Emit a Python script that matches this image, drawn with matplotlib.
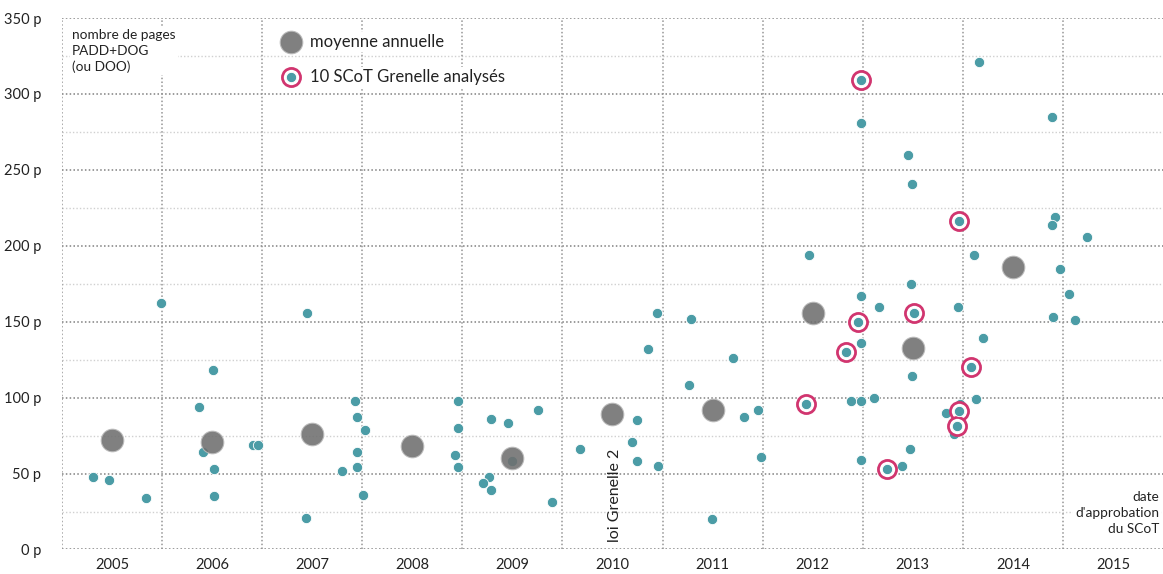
import numpy as np
import matplotlib
matplotlib.use("Agg")
import matplotlib.pyplot as plt
from matplotlib.ticker import MultipleLocator, FixedLocator, NullFormatter

plt.rcParams['font.family'] = ['Lato', 'DejaVu Sans']

# --- data: date d'approbation (fractional year) / nombre de pages PADD+DOG ---
scot_dates = [2005.31, 2005.47, 2005.84, 2005.99,
              2006.37, 2006.41, 2006.51, 2006.52, 2006.52, 2006.91, 2006.96,
              2007.45, 2007.44, 2007.80, 2007.93, 2007.95, 2007.95, 2007.95, 2008.03, 2008.01,
              2008.96, 2008.96, 2008.93, 2008.96,
              2009.50, 2009.29, 2009.46, 2009.76, 2009.27, 2009.21, 2009.29, 2009.90,
              2010.18, 2010.74, 2010.69, 2010.74, 2010.95, 2010.85, 2010.94,
              2011.28, 2011.26, 2011.70, 2011.81, 2011.95, 2011.98, 2011.49,
              2012.46, 2012.98, 2012.98, 2012.88, 2012.98, 2012.98, 2012.98,
              2013.16, 2013.11, 2013.39, 2013.47, 2013.49, 2013.45, 2013.49, 2013.48,
              2013.95, 2013.96, 2013.83, 2013.97, 2013.91,
              2014.16, 2014.89, 2014.92, 2014.89, 2014.11, 2014.97, 2014.20, 2014.13, 2014.13, 2014.90,
              2015.24, 2015.06, 2015.12]
scot_pages = [48, 46, 34, 162,
              94, 64, 118, 53, 35, 69, 69,
              156, 21, 52, 98, 87, 64, 54, 79, 36,
              98, 80, 62, 54,
              58, 86, 83, 92, 48, 44, 39, 31,
              66, 85, 71, 58, 55, 132, 156,
              152, 108, 126, 87, 92, 61, 20,
              194, 167, 136, 98, 98, 59, 281,
              160, 100, 55, 66, 114, 260, 241, 175,
              160, 219, 90, 96, 76,
              321, 285, 219, 214, 194, 185, 139, 119, 99, 153,
              206, 168, 151]

# 10 SCoT Grenelle analysés
grenelle_dates = [2012.43, 2012.83, 2012.95, 2012.98, 2013.24, 2013.51, 2013.96, 2014.08, 2013.96, 2013.94]
grenelle_pages = [96, 130, 150, 309, 53, 156, 216, 120, 91, 81]

# moyenne annuelle
avg_years = [2005, 2006, 2007, 2008, 2009, 2010, 2011, 2012, 2013, 2014]
avg_pages = [72, 71, 76, 68, 60, 89, 92, 156, 133, 186]

year_labels = [2005, 2006, 2007, 2008, 2009, 2010, 2011, 2012, 2013, 2014, 2015]
y_ticks = [0, 50, 100, 150, 200, 250, 300, 350]

TEAL = '#4b9ca6'
GREY = '#6f6f6f'
PINK = '#d1356f'

fig = plt.figure(figsize=(11.63, 5.74), dpi=100, facecolor='white')
ax = fig.add_axes([0.0533, 0.0427, 0.9467, 0.9259])
ax.set_xlim(2005, 2016)
ax.set_ylim(0, 350)

for s in ax.spines.values():
    s.set_visible(False)

# grid
ax.yaxis.set_major_locator(FixedLocator(y_ticks))
ax.yaxis.set_minor_locator(MultipleLocator(25))
ax.xaxis.set_major_locator(FixedLocator([y + 0.5 for y in year_labels]))
ax.xaxis.set_minor_locator(FixedLocator(range(2005, 2016)))
ax.xaxis.set_minor_formatter(NullFormatter())
ax.grid(False)
for v in y_ticks:
    ax.axhline(v, color='#808080', lw=1.1, ls=(0, (1, 1.5)), zorder=0)
for v in np.arange(25, 350, 50):
    ax.axhline(v, color='#d0d0d0', lw=1.0, ls=(0, (1, 1.5)), zorder=0)
for v in range(2005, 2016):
    ax.axvline(v, color='#959595', lw=1.1, ls=(0, (1, 1.5)), zorder=0)

ax.set_yticks(y_ticks)
ax.set_yticklabels([f"{v} p" for v in y_ticks])
ax.set_xticklabels([str(y) for y in year_labels])
ax.tick_params(axis='both', which='both', length=0, labelsize=10.5, colors='#222222')
ax.tick_params(axis='y', pad=15)
ax.tick_params(axis='x', pad=6)

# points
ax.scatter(scot_dates, scot_pages, s=55, color=TEAL, edgecolor='white', linewidth=0.6, zorder=3)
ax.scatter(grenelle_dates, grenelle_pages, s=170, facecolor='white', edgecolor=PINK, linewidth=2.0, zorder=4)
ax.scatter(grenelle_dates, grenelle_pages, s=55, color=TEAL, edgecolor='white', linewidth=0.6, zorder=5)
ax.scatter(np.array(avg_years) + 0.5, avg_pages, s=265, color=GREY, alpha=0.88,
           edgecolor='#bbbbbb', linewidth=0.8, zorder=6)

box = dict(facecolor='white', edgecolor='none', pad=1.5)

ax.text(2005.1, 343, "nombre de pages\nPADD+DOG\n(ou DOO)", fontsize=9.8, va='top', ha='left',
        linespacing=1.4, color='#222222', bbox=box, zorder=7)
ax.text(2015.96, 38.5, "date\nd'approbation\ndu SCoT", fontsize=9.8, va='top', ha='right',
        linespacing=1.4, color='#222222', bbox=box, zorder=7)
ax.text(2010.53, 5, "loi Grenelle 2", rotation=90, fontsize=11.5, ha='center', va='bottom',
        color='#222222', zorder=7)

# legend
ax.scatter([2007.29], [334], s=265, color=GREY, alpha=0.88, edgecolor='#bbbbbb', linewidth=0.8,
           zorder=8, clip_on=False)
ax.text(2007.48, 334, "moyenne annuelle", fontsize=12, va='center', ha='left', color='#222222',
        bbox=box, zorder=7)
ax.scatter([2007.29], [311], s=170, facecolor='white', edgecolor=PINK, linewidth=2.0, zorder=8)
ax.scatter([2007.29], [311], s=55, color=TEAL, edgecolor='white', linewidth=0.6, zorder=9)
ax.text(2007.48, 311, "10 SCoT Grenelle analysés", fontsize=12, va='center', ha='left',
        color='#222222', bbox=box, zorder=7)

fig.savefig("out.png", dpi=100, facecolor='white')
